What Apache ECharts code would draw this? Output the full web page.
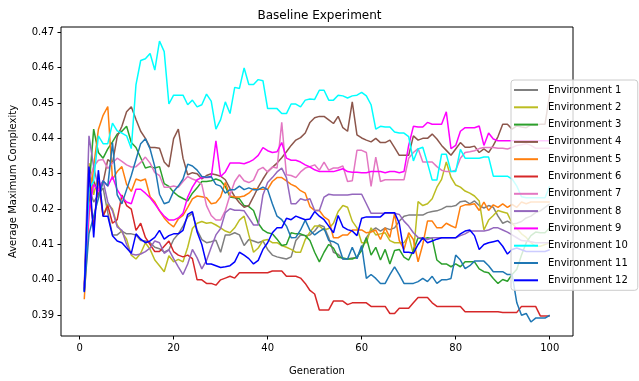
<!DOCTYPE html>
<html><head><meta charset="utf-8">
<script src="https://cdn.jsdelivr.net/npm/echarts@6/dist/echarts.min.js"></script>
<style>html,body{margin:0;padding:0;background:#fff}#c{width:639px;height:381px}</style>
</head><body><div id="c"></div><script>
const generations = [1,2,3,4,5,6,7,8,9,10,11,12,13,14,15,16,17,18,19,20,21,22,23,24,25,26,27,28,29,30,31,32,33,34,35,36,37,38,39,40,41,42,43,44,45,46,47,48,49,50,51,52,53,54,55,56,57,58,59,60,61,62,63,64,65,66,67,68,69,70,71,72,73,74,75,76,77,78,79,80,81,82,83,84,85,86,87,88,89,90,91,92,93,94,95,96,97,98,99,100];
const seriesNames = ['Environment 1','Environment 2','Environment 3','Environment 4','Environment 5','Environment 6','Environment 7','Environment 8','Environment 9','Environment 10','Environment 11','Environment 12'];
const xTicks = [0,20,40,60,80,100];
const yTicks = [0.39,0.40,0.41,0.42,0.43,0.44,0.45,0.46,0.47];

const env1 = [0.3975,0.426,0.422,0.424,0.426,0.419,0.4127,0.4127,0.4138,0.413,
0.413,0.4127,0.4111,0.411,0.4105,0.4092,0.4088,0.4078,0.4085,0.4114,
0.413,0.4152,0.4178,0.4188,0.4141,0.4114,0.4105,0.4108,0.4112,0.4078,
0.4127,0.4127,0.4133,0.4127,0.4097,0.4114,0.411,0.4105,0.411,0.4086,
0.407,0.4065,0.4062,0.4059,0.4065,0.4111,0.4127,0.4125,0.4127,0.4138,
0.4155,0.415,0.4119,0.4078,0.4072,0.4059,0.4059,0.4062,0.4062,0.409,
0.4119,0.4138,0.4147,0.4138,0.4147,0.4142,0.4147,0.4166,0.418,0.4183,
0.4183,0.4183,0.4183,0.419,0.4193,0.4195,0.42,0.4207,0.4207,0.421,
0.4221,0.4223,0.4215,0.4223,0.421,0.4203,0.421,0.4205,0.418,0.416,
0.4166,0.4158,0.416,0.4165,0.4175,0.418,0.419,0.4195,0.4205,0.4215];
const env2 = [0.398,0.433,0.424,0.430,0.418,0.4215,0.420,0.4155,0.4135,0.4115,
0.407,0.4059,0.4075,0.4105,0.4086,0.4056,0.404,0.4023,0.4068,0.4051,
0.4058,0.4051,0.4092,0.4145,0.416,0.4165,0.416,0.4162,0.4155,0.4147,
0.4138,0.4133,0.4147,0.4169,0.418,0.4127,0.4078,0.409,0.4111,0.4114,
0.4105,0.4105,0.4097,0.4092,0.4086,0.4078,0.4078,0.4114,0.4135,0.4152,
0.4152,0.4141,0.4145,0.416,0.4193,0.421,0.4205,0.4166,0.4147,0.4105,
0.4105,0.4147,0.4127,0.413,0.4133,0.4111,0.4105,0.4105,0.4105,0.4125,
0.4073,0.4221,0.421,0.4215,0.4229,0.4262,0.4284,0.4333,0.429,0.4268,
0.4262,0.4251,0.4245,0.4237,0.4223,0.4141,0.4169,0.4182,0.4196,0.4192,
0.4188,0.416,0.4145,0.413,0.412,0.4105,0.4095,0.4095,0.410,0.4105];
const env3 = [0.397,0.426,0.4426,0.436,0.4344,0.437,0.439,0.4412,0.442,0.4434,
0.4388,0.4374,0.4345,0.4316,0.432,0.4316,0.432,0.4272,0.4264,0.4248,
0.4237,0.423,0.4223,0.4245,0.426,0.4278,0.4278,0.428,0.4285,0.428,
0.4264,0.4234,0.4232,0.4229,0.421,0.4207,0.4196,0.416,0.4141,0.4133,
0.413,0.4115,0.4097,0.410,0.4133,0.413,0.413,0.4125,0.4111,0.4078,
0.4051,0.4078,0.410,0.409,0.4064,0.4062,0.4059,0.4059,0.4065,0.4083,
0.4119,0.407,0.4092,0.4056,0.4086,0.4045,0.4083,0.4086,0.4064,0.4056,
0.4083,0.4119,0.4115,0.4119,0.4117,0.4056,0.4045,0.4045,0.4037,0.4045,
0.4037,0.4051,0.4051,0.4051,0.4031,0.4023,0.402,0.4004,0.399,0.4001,
0.3996,0.4015,0.403,0.407,0.4105,0.4125,0.4135,0.4133,0.4133,0.4147];
const env4 = [0.3975,0.425,0.428,0.424,0.4275,0.434,0.433,0.4405,0.4434,0.4475,
0.4489,0.4453,0.442,0.440,0.4374,0.4374,0.4372,0.4333,0.4319,0.4399,
0.4426,0.4344,0.4297,0.4303,0.430,0.4285,0.4295,0.430,0.4297,0.4293,
0.4283,0.4258,0.4235,0.4218,0.4205,0.421,0.4235,0.4262,0.4285,0.4306,
0.4318,0.433,0.4345,0.4362,0.438,0.4395,0.4402,0.4415,0.4445,0.4458,
0.4462,0.4462,0.4452,0.4442,0.4462,0.443,0.442,0.4503,0.441,0.4401,
0.4395,0.439,0.440,0.4388,0.4388,0.4395,0.4374,0.4352,0.4352,0.4352,
0.4407,0.4395,0.440,0.440,0.4412,0.4398,0.438,0.4366,0.4352,0.437,
0.4388,0.4375,0.4375,0.4378,0.436,0.437,0.436,0.438,0.4405,0.444,
0.444,0.4426,0.4435,0.4432,0.443,0.4438,0.4438,0.444,0.444,0.4525];
const env5 = [0.3945,0.418,0.432,0.4425,0.4465,0.449,0.4284,0.4306,0.432,0.427,
0.425,0.4285,0.428,0.4285,0.4235,0.422,0.4195,0.4175,0.416,0.415,
0.4172,0.4182,0.4205,0.4229,0.4237,0.4235,0.4232,0.4215,0.4218,0.4234,
0.4275,0.4237,0.4234,0.4234,0.4237,0.4245,0.4258,0.4256,0.4256,0.4256,
0.4278,0.4289,0.4289,0.428,0.427,0.4264,0.4252,0.4245,0.4207,0.4196,
0.4196,0.4178,0.4169,0.4119,0.4119,0.4127,0.4127,0.4141,0.4141,0.4141,
0.4133,0.4135,0.4141,0.4114,0.4147,0.412,0.4188,0.4111,0.4086,0.4133,
0.4114,0.4051,0.410,0.4166,0.4166,0.4147,0.4147,0.416,0.4153,0.4147,
0.4207,0.4212,0.4212,0.4215,0.4196,0.422,0.4196,0.4212,0.4205,0.4215,
0.4205,0.4213,0.4205,0.422,0.4215,0.422,0.422,0.422,0.422,0.422];
const env6 = [0.397,0.425,0.415,0.428,0.418,0.421,0.416,0.417,0.424,0.421,
0.420,0.414,0.416,0.412,0.410,0.408,0.408,0.4095,0.411,0.408,
0.407,0.4065,0.407,0.406,0.400,0.400,0.399,0.399,0.3985,0.400,
0.4005,0.401,0.4005,0.402,0.402,0.402,0.402,0.402,0.402,0.402,
0.4025,0.4025,0.4025,0.401,0.401,0.401,0.4005,0.399,0.397,0.396,
0.3915,0.3915,0.3915,0.394,0.394,0.394,0.393,0.3935,0.3935,0.3935,
0.3935,0.3925,0.3925,0.3925,0.3925,0.3905,0.3905,0.392,0.392,0.392,
0.3935,0.395,0.395,0.395,0.3935,0.3925,0.3925,0.3925,0.3925,0.3925,
0.3925,0.391,0.391,0.391,0.391,0.391,0.391,0.391,0.391,0.3908,
0.3908,0.3908,0.3908,0.3925,0.3925,0.3925,0.3925,0.3898,0.3898,0.3898];
const env7 = [0.398,0.428,0.432,0.4338,0.434,0.4315,0.433,0.4344,0.4335,0.4325,
0.4319,0.432,0.4332,0.4347,0.433,0.4303,0.4295,0.4262,0.4262,0.4265,
0.4262,0.4278,0.4292,0.4285,0.428,0.427,0.421,0.4182,0.4169,0.4169,
0.4196,0.424,0.4278,0.4297,0.428,0.4275,0.4282,0.4311,0.4318,0.4305,
0.4319,0.4316,0.4445,0.4297,0.4295,0.4289,0.4305,0.4316,0.432,0.4325,
0.431,0.4333,0.431,0.4316,0.4316,0.4322,0.4278,0.428,0.4366,0.4366,
0.436,0.4264,0.4347,0.4278,0.4283,0.4283,0.4283,0.4283,0.4283,0.4344,
0.436,0.4371,0.4333,0.4333,0.4333,0.432,0.431,0.4306,0.4306,0.431,
0.4344,0.436,0.4362,0.4365,0.4371,0.4374,0.4374,0.4374,0.4372,0.4372,
0.437,0.4374,0.438,0.4382,0.4385,0.438,0.4372,0.4372,0.4372,0.4372];
const env8 = [0.3978,0.4407,0.432,0.426,0.428,0.422,0.4195,0.415,0.414,0.410,
0.4073,0.407,0.4073,0.408,0.409,0.411,0.4105,0.4075,0.4085,0.406,
0.4037,0.4015,0.4045,0.4086,0.4062,0.4031,0.4055,0.4092,0.4127,0.4145,
0.419,0.4201,0.4197,0.4197,0.4195,0.4175,0.4155,0.4155,0.424,0.4275,
0.4289,0.4305,0.4316,0.4289,0.4215,0.4215,0.4229,0.4225,0.4229,0.4196,
0.4196,0.4234,0.4242,0.424,0.424,0.424,0.424,0.4242,0.4242,0.4242,
0.4215,0.4188,0.4188,0.4188,0.4188,0.4188,0.4188,0.4185,0.4166,0.4152,
0.4133,0.412,0.4119,0.4114,0.4119,0.4119,0.4119,0.4119,0.4119,0.4119,
0.4125,0.413,0.4138,0.4138,0.4138,0.4138,0.4141,0.4147,0.4147,0.4141,
0.4135,0.4127,0.4119,0.4111,0.411,0.4108,0.4105,0.4105,0.4105,0.4105];
const env9 = [0.3975,0.4196,0.427,0.425,0.428,0.4265,0.4292,0.4255,0.4234,0.422,
0.4215,0.4256,0.4256,0.4245,0.4232,0.4215,0.4196,0.418,0.4169,0.4169,
0.4175,0.4188,0.4234,0.4262,0.4283,0.4289,0.4289,0.429,0.4393,0.4292,
0.4305,0.433,0.433,0.433,0.4328,0.4333,0.434,0.4352,0.4374,0.4365,
0.436,0.4362,0.4388,0.4344,0.4338,0.4338,0.4333,0.4325,0.4319,0.4311,
0.4306,0.4306,0.4306,0.4306,0.431,0.4314,0.4306,0.4304,0.4304,0.4303,
0.4303,0.4306,0.4306,0.4306,0.4303,0.4306,0.4306,0.4303,0.4306,0.438,
0.4434,0.4432,0.4432,0.4445,0.444,0.444,0.444,0.4475,0.4371,0.438,
0.442,0.443,0.443,0.443,0.4435,0.438,0.4415,0.4398,0.4393,0.4393,
0.4393,0.4393,0.4393,0.4393,0.4393,0.4393,0.4393,0.4393,0.4393,0.4393];
const env10 = [0.3968,0.4255,0.428,0.4407,0.4385,0.4385,0.4443,0.4421,0.4415,0.4407,
0.4371,0.4552,0.462,0.4625,0.464,0.4593,0.4675,0.4645,0.4497,0.4522,
0.4522,0.4522,0.4495,0.4508,0.4489,0.4495,0.4525,0.4505,0.4426,0.4453,
0.4503,0.447,0.4544,0.4541,0.4599,0.4552,0.4552,0.4566,0.4563,0.4484,
0.4484,0.4484,0.447,0.447,0.4497,0.4497,0.4489,0.4508,0.4511,0.451,
0.4536,0.4536,0.4508,0.4508,0.4522,0.452,0.4514,0.452,0.4522,0.453,
0.452,0.4495,0.4426,0.4434,0.4432,0.4432,0.4418,0.4415,0.4415,0.4405,
0.4336,0.437,0.4375,0.433,0.4282,0.4282,0.4355,0.4355,0.4306,0.4306,
0.4369,0.4344,0.4344,0.4344,0.4344,0.4347,0.4347,0.4293,0.4293,0.4293,
0.4293,0.4285,0.4265,0.4235,0.4232,0.4232,0.4232,0.4232,0.4232,0.4265];
const env11 = [0.3965,0.413,0.418,0.423,0.428,0.4265,0.4388,0.424,0.4215,0.4255,
0.4295,0.434,0.4385,0.4399,0.437,0.432,0.4242,0.4215,0.422,0.425,
0.4265,0.4285,0.4327,0.4322,0.431,0.4292,0.429,0.4292,0.427,0.4265,
0.4245,0.4255,0.4255,0.4265,0.4255,0.426,0.4255,0.4255,0.4262,0.4255,
0.4215,0.418,0.417,0.4152,0.4119,0.412,0.4141,0.4169,0.414,0.4127,
0.4137,0.4145,0.4111,0.4108,0.410,0.4059,0.4059,0.4092,0.406,0.4097,
0.4004,0.4015,0.4004,0.399,0.399,0.4015,0.4037,0.4015,0.399,0.399,
0.399,0.3995,0.4004,0.3995,0.401,0.399,0.400,0.400,0.4004,0.407,
0.4056,0.4032,0.404,0.4053,0.4053,0.4053,0.404,0.4023,0.4023,0.4023,
0.4015,0.4015,0.3935,0.390,0.3905,0.3881,0.3892,0.3892,0.3892,0.390];
const env12 = [0.3966,0.432,0.412,0.431,0.418,0.418,0.4125,0.411,0.4105,0.409,
0.4075,0.413,0.4115,0.4105,0.411,0.412,0.414,0.4115,0.4125,0.413,
0.413,0.414,0.4185,0.4193,0.4135,0.410,0.4045,0.4045,0.404,0.4035,
0.4037,0.404,0.4051,0.4078,0.407,0.406,0.4045,0.4055,0.4086,0.4105,
0.4133,0.4147,0.4147,0.4174,0.417,0.418,0.4175,0.417,0.4172,0.4193,
0.418,0.417,0.4152,0.4133,0.4182,0.415,0.4142,0.4138,0.4125,0.4174,
0.4178,0.4178,0.4178,0.4178,0.419,0.419,0.419,0.416,0.4078,0.4078,
0.4075,0.410,0.4119,0.4105,0.411,0.4115,0.4119,0.4119,0.4119,0.4119,
0.413,0.4138,0.4141,0.4125,0.4086,0.410,0.4105,0.4108,0.4111,0.4095,
0.4073,0.4086,0.409,0.4085,0.408,0.408,0.408,0.408,0.408,0.4085];

const seriesValues = [env1,env2,env3,env4,env5,env6,env7,env8,env9,env10,env11,env12];
const seriesColors = ['#7f7f7f','#bcbd22','#2ca02c','#8c564b','#ff7f0e','#d62728','#e377c2','#9467bd','#ff00ff','#00ffff','#1f77b4','#0000ff'];

const FONT = 'DejaVu Sans';
const chart = echarts.init(document.getElementById('c'), null, {renderer:'canvas'});
chart.setOption({
  animation: false,
  backgroundColor: '#ffffff',
  title: {
    text: 'Baseline Experiment', left: 'center', top: 10, padding: [0, 5, 0, 0],
    textStyle: {fontFamily: FONT, fontSize: 12, fontWeight: 'normal', color: '#000'}
  },
  grid: {left: 61, right: 66, top: 27, bottom: 35, show: true, borderColor: '#000', borderWidth: 1, backgroundColor: 'transparent'},
  legend: {
    orient: 'vertical', left: 511, top: 80,
    padding: [5, 10, 5, 3],
    icon: 'rect',
    itemWidth: 24, itemHeight: 2, itemGap: 7.3,
    backgroundColor: 'rgba(255,255,255,0.8)', borderColor: '#cccccc', borderWidth: 1, borderRadius: 3,
    textStyle: {fontFamily: FONT, fontSize: 10, color: '#000', padding: [0, 0, 0, 5], lineHeight: 10},
    data: seriesNames
  },
  xAxis: {
    type: 'value', min: -3.95, max: 104.95,
    axisLine: {show: false, onZero: false}, splitLine: {show: false},
    axisTick: {show: true, length: 3.5, customValues: xTicks, lineStyle: {color: '#000', width: 1}},
    axisLabel: {customValues: xTicks, margin: 7, fontFamily: FONT, fontSize: 10, color: '#000'},
    name: 'Generation', nameLocation: 'middle', nameGap: 35, nameMoveOverlap: false,
    nameTextStyle: {fontFamily: FONT, fontSize: 10, color: '#000', verticalAlign: 'middle'}
  },
  yAxis: {
    type: 'value', min: 0.38413, max: 0.47147,
    axisLine: {show: false, onZero: false}, splitLine: {show: false},
    axisTick: {show: true, length: 3.5, customValues: yTicks, lineStyle: {color: '#000', width: 1}},
    axisLabel: {customValues: yTicks, margin: 7, fontFamily: FONT, fontSize: 10, color: '#000', formatter: v => v.toFixed(2)},
    name: 'Average Maximum Complexity', nameLocation: 'middle', nameGap: 43,
    nameTextStyle: {fontFamily: FONT, fontSize: 10, color: '#000'}
  },
  series: seriesNames.map((name, i) => ({
    name: name, type: 'line', symbol: 'none', showSymbol: false,
    data: generations.map((g, j) => [g, seriesValues[i][j]]),
    lineStyle: {color: seriesColors[i], width: 1.5},
    itemStyle: {color: seriesColors[i]},
    emphasis: {disabled: true}
  }))
});
</script></body></html>
